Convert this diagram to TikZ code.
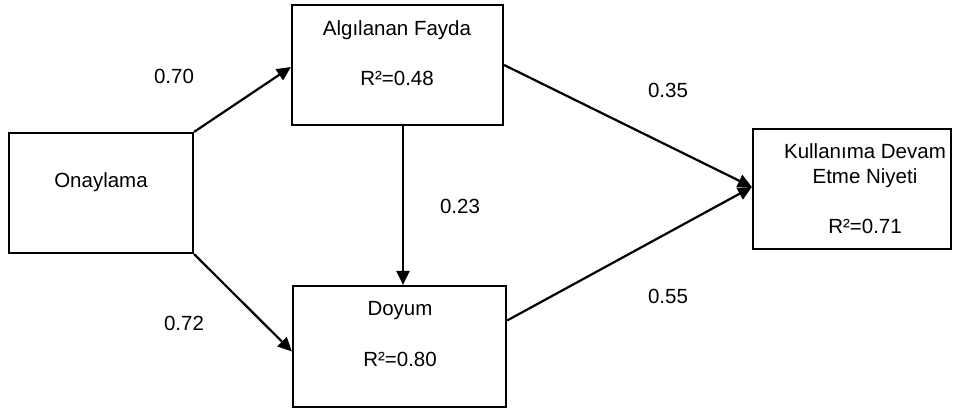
\documentclass[tikz,border=0pt]{standalone}
\usepackage{fontspec}
\setmainfont{Liberation Sans}
\usetikzlibrary{arrows.meta}
\begin{document}
\begin{tikzpicture}[x=1pt,y=-1pt,
  box/.style={draw=black,line width=2.2pt,rectangle,inner sep=0pt},
  lbl/.style={inner sep=0pt,font=\fontsize{20.5}{25}\selectfont,align=center},
  conn/.style={line width=2.2pt,-{Triangle[length=14pt,width=13pt]}}]
\useasboundingbox (0,0) rectangle (966,410);
% boxes
\node[box,minimum width=184pt,minimum height=120pt] (on) at (101,193) {};
\node[box,minimum width=211pt,minimum height=120pt] (af) at (397.5,65) {};
\node[box,minimum width=213pt,minimum height=121pt] (dy) at (399.5,346.5) {};
\node[box,minimum width=198pt,minimum height=120pt] (ku) at (852,189) {};
% texts
\node[lbl] (ont) at (101,182) {Onaylama};
\node[lbl] (aft) at (397,30) {Algılanan Fayda};
\node[lbl] (afr) at (397,78) {R²=0.48};
\node[lbl] (dyt) at (400,311) {Doyum};
\node[lbl] (dyr) at (400,359) {R²=0.80};
\node[lbl] (kut) at (865,165.5) {Kullanıma Devam\\Etme Niyeti};
\node[lbl] (kur) at (865,226) {R²=0.71};
% coefficients
\node[lbl] (c1) at (174,76) {0.70};
\node[lbl] (c2) at (184,323) {0.72};
\node[lbl] (c3) at (460,206) {0.23};
\node[lbl] (c4) at (668,90) {0.35};
\node[lbl] (c5) at (668,296) {0.55};
% connectors
\draw[conn] (on.north east) -- ([yshift=-2pt]af.west);
\draw[conn] (on.south east) -- ([yshift=-5pt]dy.west);
\draw[conn] ([xshift=5.5pt]af.south) -- ([xshift=3.5pt]dy.north);
\draw[conn] (af.east) -- ([yshift=2pt]ku.west);
\draw[conn] ([yshift=26pt]dy.east) -- ([yshift=2pt]ku.west);
\end{tikzpicture}
\end{document}
